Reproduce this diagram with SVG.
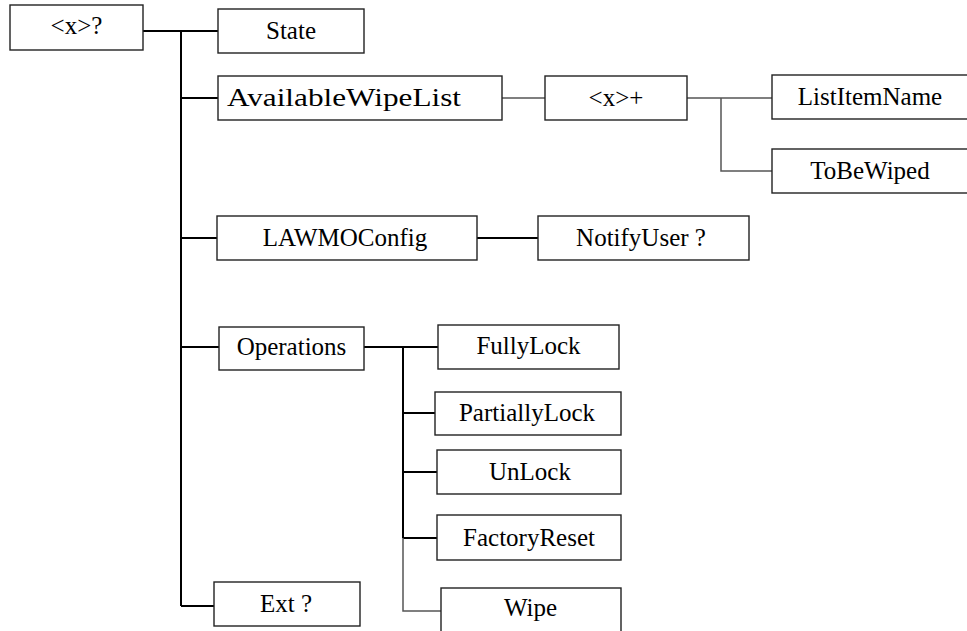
<svg xmlns="http://www.w3.org/2000/svg" width="967" height="631" viewBox="0 0 967 631">
<style>
.box{fill:#fff;stroke:#222;stroke-width:1.4}
text{font-family:'Liberation Serif','Times New Roman','DejaVu Serif',serif;font-size:25px;fill:#000;text-anchor:middle}
.c{fill:none;stroke:#000;stroke-width:2}
.g{fill:none;stroke:#555;stroke-width:1.5}
</style>
<rect width="967" height="631" fill="#fff"/>
<g id="connectors">
<path class="c" d="M143,31H218M181,31V606M181,98H218M181,238H217M181,347H219M181,606H214"/>
<path class="g" d="M502,98H545M687,98H772M721,98V171H772"/>
<path class="c" d="M477,238H538"/>
<path class="c" d="M364,347H438M403,347V538M403,413H435M403,472H437M403,538H437"/>
<path class="g" d="M403,538V611H441"/>
</g>
<g id="root"><rect class="box" x="10" y="5" width="133" height="45"/><text x="76.5" y="34">&lt;x&gt;?</text></g>
<g id="state"><rect class="box" x="218" y="9" width="146" height="44"/><text x="291" y="39">State</text></g>
<g id="availablewipelist"><rect class="box" x="218" y="76" width="284" height="44"/><text x="227" y="106" style="text-anchor:start;font-size:26px" textLength="234" lengthAdjust="spacingAndGlyphs">AvailableWipeList</text></g>
<g id="xplus"><rect class="box" x="545" y="76" width="142" height="44"/><text x="616" y="106">&lt;x&gt;+</text></g>
<g id="listitemname"><rect class="box" x="772" y="75" width="197" height="44"/><text x="870" y="105">ListItemName</text></g>
<g id="tobewiped"><rect class="box" x="772" y="149" width="197" height="44"/><text x="870" y="179">ToBeWiped</text></g>
<g id="lawmoconfig"><rect class="box" x="217" y="216" width="260" height="44"/><text x="345" y="246">LAWMOConfig</text></g>
<g id="notifyuser"><rect class="box" x="538" y="216" width="211" height="44"/><text x="641" y="246">NotifyUser ?</text></g>
<g id="operations"><rect class="box" x="219" y="327" width="145" height="43"/><text x="291.5" y="355">Operations</text></g>
<g id="fullylock"><rect class="box" x="438" y="325" width="181" height="44"/><text x="528.5" y="354">FullyLock</text></g>
<g id="partiallylock"><rect class="box" x="435" y="392" width="186" height="43"/><text x="527" y="421">PartiallyLock</text></g>
<g id="unlock"><rect class="box" x="437" y="450" width="184" height="44"/><text x="530" y="480">UnLock</text></g>
<g id="factoryreset"><rect class="box" x="437" y="515" width="184" height="45"/><text x="529" y="546">FactoryReset</text></g>
<g id="wipe"><rect class="box" x="441" y="588" width="180" height="50"/><text x="530.5" y="616">Wipe</text></g>
<g id="ext"><rect class="box" x="214" y="582" width="146" height="44"/><text x="286" y="612">Ext ?</text></g>
</svg>
